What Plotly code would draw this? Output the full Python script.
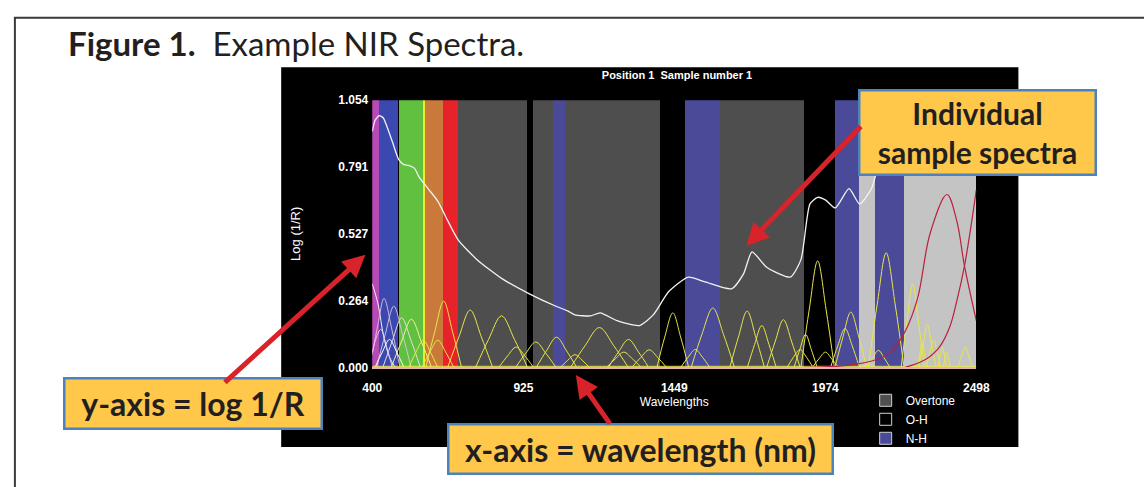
import plotly.graph_objects as go

W, H = 1144, 487

# ---------------- data ----------------
x_ticks = [400, 925, 1449, 1974, 2498]
x_ticktext = ["400", "925", "1449", "1974", "2498"]
y_ticks = [0.0, 0.264, 0.527, 0.791, 1.054]
y_ticktext = ["0.000", "0.264", "0.527", "0.791", "1.054"]
y_top = 1.054

# colour bands of the visible region (nm)
vis_start = [400, 424, 495, 577, 584, 645]
vis_end = [424, 492, 577, 584, 645, 699]
vis_color = ["#b84ab8", "#3a48b0", "#62c040", "#f0ec28", "#c97a3a", "#e8222a"]

# absorption regions (nm)
overtone_start = [699, 958, 1070, 1607]
overtone_end = [937, 1029, 1400, 1900]
nh_start = [1029, 1488, 2008, 2148]
nh_end = [1070, 1607, 2090, 2246]
oh_start = [2090, 2246]
oh_end = [2148, 2498]

# individual sample spectrum (white)
white_nm = [400, 410, 424, 438, 451, 470, 492, 510, 526, 546, 563, 594, 628, 662, 699,
            764, 852, 944, 1040, 1080, 1104, 1158, 1192, 1250, 1328, 1376, 1430, 1498,
            1556, 1648, 1690, 1719, 1770, 1852, 1889, 1920, 1947, 1975, 2008, 2056, 2093,
            2134, 2158, 2200, 2250, 2300, 2380, 2498]
white_val = [0.93, 0.975, 0.993, 0.985, 0.95, 0.89, 0.82, 0.80, 0.797, 0.786, 0.751, 0.705,
             0.655, 0.579, 0.502, 0.425, 0.349, 0.291, 0.24, 0.222, 0.207, 0.203, 0.215,
             0.184, 0.165, 0.207, 0.299, 0.356, 0.337, 0.31, 0.37, 0.456, 0.395, 0.356,
             0.425, 0.644, 0.671, 0.66, 0.629, 0.705, 0.644, 0.705, 0.782, 0.78, 0.77,
             0.85, 0.95, 1.0]

# yellow component curves: (nm points, values)
yellow_curves = [
    ([586, 617, 648, 679, 710], [0, 0.14, 0.261, 0.14, 0]),
    ([662, 701, 740, 779, 818], [0, 0.12, 0.226, 0.12, 0]),
    ([759, 804, 849, 894, 939], [0, 0.11, 0.203, 0.11, 0]),
    ([573, 600, 628, 655, 683], [0, 0.06, 0.107, 0.06, 0]),
    ([527, 552, 577, 602, 627], [0, 0.06, 0.107, 0.06, 0]),
    ([898, 933, 968, 1003, 1038], [0, 0.055, 0.10, 0.055, 0]),
    ([970, 1005, 1040, 1075, 1110], [0, 0.065, 0.119, 0.065, 0]),
    ([840, 870, 900, 930, 960], [0, 0.045, 0.08, 0.045, 0]),
    ([1089, 1139, 1189, 1239, 1289], [0, 0.085, 0.157, 0.085, 0]),
    ([1302, 1332, 1362, 1392, 1422], [0, 0.038, 0.069, 0.038, 0]),
    ([1389, 1416, 1444, 1471, 1499], [0, 0.12, 0.215, 0.12, 0]),
    ([1508, 1545, 1583, 1620, 1658], [0, 0.13, 0.234, 0.13, 0]),
    ([1642, 1672, 1702, 1732, 1762], [0, 0.12, 0.222, 0.12, 0]),
    ([1703, 1728, 1753, 1778, 1803], [0, 0.09, 0.165, 0.09, 0]),
    ([1770, 1799, 1828, 1857, 1886], [0, 0.10, 0.188, 0.10, 0]),
    ([1889, 1918, 1947, 1976, 2005], [0, 0.23, 0.42, 0.23, 0]),
    ([2007, 2035, 2062, 2090, 2117], [0, 0.12, 0.218, 0.12, 0]),
    ([1992, 2017, 2042, 2067, 2092], [0, 0.085, 0.153, 0.085, 0]),
    ([2123, 2154, 2185, 2216, 2247], [0, 0.25, 0.452, 0.25, 0]),
    ([2237, 2257, 2277, 2297, 2317], [0, 0.18, 0.33, 0.18, 0]),
    ([2298, 2313, 2328, 2343, 2358], [0, 0.09, 0.169, 0.09, 0]),
    ([2325, 2337, 2350, 2362, 2375], [0, 0.06, 0.107, 0.06, 0]),
    ([2435, 2447, 2460, 2472, 2485], [0, 0.045, 0.08, 0.045, 0]),
    ([2118, 2138, 2158, 2178, 2198], [0, 0.037, 0.067, 0.037, 0]),
    ([1841, 1863, 1886, 1908, 1931], [0, 0.04, 0.07, 0.04, 0]),
    ([1929, 1951, 1974, 1996, 2019], [0, 0.033, 0.06, 0.033, 0]),
    ([1472, 1497, 1522, 1547, 1572], [0, 0.04, 0.07, 0.04, 0]),
    ([1214, 1244, 1274, 1304, 1334], [0, 0.033, 0.06, 0.033, 0]),
    ([1220, 1255, 1290, 1325, 1360], [0, 0.06, 0.11, 0.06, 0]),
    ([1054, 1079, 1104, 1129, 1154], [0, 0.028, 0.05, 0.028, 0]),
    ([1865, 1885, 1905, 1925, 1945], [0, 0.07, 0.13, 0.07, 0]),
    ([2365, 2372, 2380, 2388, 2395], [0, 0.045, 0.08, 0.045, 0]),
    ([2383, 2389, 2395, 2401, 2407], [0, 0.033, 0.06, 0.033, 0]),
    ([2295, 2302, 2310, 2318, 2325], [0, 0.055, 0.10, 0.055, 0]),
    ([400, 1200, 2498], [0.004, 0.004, 0.004]),
]

# visible-region curves (pale colours)
vis_curves = [
    ([400, 420, 440, 460, 480], [0.33, 0.25, 0.12, 0.04, 0], "#f0f0f0"),
    ([400, 420, 441, 468, 496], [0.05, 0.17, 0.272, 0.15, 0], "#d8b8d8"),
    ([415, 445, 475, 505, 535], [0, 0.13, 0.241, 0.13, 0], "#c8c8d8"),
    ([437, 470, 502, 535, 567], [0, 0.105, 0.195, 0.105, 0], "#e0e0e0"),
    ([466, 501, 536, 571, 606], [0, 0.10, 0.19, 0.10, 0], "#f0f0a0"),
    ([400, 415, 430, 450, 470], [0.06, 0.12, 0.15, 0.08, 0], "#e8c8e8"),
    ([410, 435, 460, 485, 510], [0, 0.06, 0.11, 0.06, 0], "#ffffff"),
]

# red curves
red_curves = [
    ([1900, 2050, 2150, 2200, 2250, 2294, 2338, 2396, 2430, 2457, 2498],
     [0.0, 0.008, 0.03, 0.06, 0.14, 0.272, 0.53, 0.682, 0.579, 0.40, 0.184]),
    ([2250, 2320, 2370, 2406, 2430, 2457, 2484, 2498],
     [0.0, 0.03, 0.08, 0.16, 0.26, 0.40, 0.59, 0.70]),
]

legend_names = ["Overtone", "O-H", "N-H"]
legend_fill = ["#505050", "#000000", "#4a4a9a"]

# ---------------- figure ----------------
def px(x):
    return x / W

def py(y):
    return 1 - y / H

fig = go.Figure()

def add_bands(starts, ends, colors):
    fig.add_trace(go.Bar(
        x=[(s + e) / 2 for s, e in zip(starts, ends)],
        width=[e - s for s, e in zip(starts, ends)],
        y=[y_top] * len(starts),
        marker=dict(color=colors, line=dict(width=0)),
        showlegend=False, hoverinfo="skip"))

add_bands(vis_start, vis_end, vis_color)
add_bands(overtone_start, overtone_end, ["#4e4e4e"] * len(overtone_start))
add_bands(nh_start, nh_end, ["#4a4a98"] * len(nh_start))
add_bands(oh_start, oh_end, ["#c4c4c4"] * len(oh_start))

for xs, ys, c in vis_curves:
    fig.add_trace(go.Scatter(x=xs, y=ys, mode="lines", line=dict(color=c, width=1, shape="spline"),
                             showlegend=False, hoverinfo="skip"))
for xs, ys in yellow_curves:
    fig.add_trace(go.Scatter(x=xs, y=ys, mode="lines", line=dict(color="#e8e64a", width=1, shape="spline"),
                             showlegend=False, hoverinfo="skip"))
for xs, ys in red_curves:
    fig.add_trace(go.Scatter(x=xs, y=ys, mode="lines", line=dict(color="#b8203c", width=1.2, shape="spline"),
                             showlegend=False, hoverinfo="skip"))
fig.add_trace(go.Scatter(x=white_nm, y=white_val, mode="lines",
                         line=dict(color="#f2f2f2", width=1.3, shape="spline", smoothing=0.6),
                         showlegend=False, hoverinfo="skip"))

for n, c in zip(legend_names, legend_fill):
    fig.add_trace(go.Bar(x=[None], y=[None], name=n,
                         marker=dict(color=c, line=dict(color="#d0d0d0", width=1))))

fig.update_layout(
    width=W, height=H, margin=dict(l=0, r=0, t=0, b=0),
    paper_bgcolor="white", plot_bgcolor="black", barmode="overlay", bargap=0,
    title=dict(text="Position 1\u00a0\u00a0Sample number 1", x=px(677), y=py(75),
               xanchor="center", yanchor="middle",
               font=dict(family="Liberation Sans", size=11, color="white", weight="bold")),
    xaxis=dict(domain=[px(370), px(987)], range=[400, 2498], tickvals=x_ticks, ticktext=x_ticktext,
               ticks="", showgrid=False, zeroline=False, showline=True, linecolor="#e8b0b8", linewidth=1.5,
               tickfont=dict(family="Liberation Sans", size=12, color="white", weight="bold"),
               ticklabelstandoff=9,
               title=dict(text="Wavelengths", standoff=0,
                          font=dict(family="Liberation Sans", size=12, color="white"))),
    yaxis=dict(domain=[py(371), py(96)], range=[0, y_top], tickvals=y_ticks, ticktext=y_ticktext,
               ticks="", showgrid=False, zeroline=False, showline=False,
               tickfont=dict(family="Liberation Sans", size=12, color="white", weight="bold"),
               ticklabelstandoff=3,
               title=dict(text="Log (1/R)", standoff=34,
                          font=dict(family="Liberation Sans", size=13, color="white"))),
    legend=dict(x=px(874), y=py(390), xanchor="left", yanchor="top", bgcolor="rgba(0,0,0,0)",
                font=dict(family="Liberation Sans", size=12, color="white"), tracegroupgap=0,
                traceorder="normal"),
    shapes=[
        dict(type="rect", xref="paper", yref="paper", x0=px(5), x1=1.02, y0=-0.05, y1=py(11),
             line=dict(color="#3a3a3a", width=2), fillcolor="rgba(0,0,0,0)", layer="below"),
        dict(type="rect", xref="paper", yref="paper", x0=px(277), x1=px(1030), y0=py(453), y1=py(62),
             line=dict(width=0), fillcolor="black", layer="below"),
    ],
)

callout = dict(xref="paper", yref="paper", xanchor="center", yanchor="middle", showarrow=False,
               bgcolor="#FFC84B", bordercolor="#4A83BF", borderwidth=2.5, borderpad=0,
               font=dict(family="Lato", size=32, color="#231F20", weight="bold"))
annotations = [
    dict(xref="paper", yref="paper", x=px(57), y=py(37), xanchor="left", yanchor="middle", showarrow=False,
         text="<b>Figure 1.</b>\u00a0\u00a0Example NIR Spectra.",
         font=dict(family="Lato", size=33, color="#231F20")),
    dict(callout, x=px(988), y=py(129.5), width=234, height=82, text="Individual<br>sample spectra",
         font=dict(family="Lato", size=30, color="#231F20", weight="bold")),
    dict(callout, x=px(187), y=py(408.5), width=255, height=48, text="y-axis = log 1/R"),
    dict(callout, x=px(644.5), y=py(455), width=382, height=47, text="x-axis = wavelength (nm)"),
]
arrow = dict(xref="paper", yref="paper", text="", showarrow=True, arrowhead=2, arrowsize=0.9,
             arrowwidth=5, arrowcolor="#D8232A", axref="pixel", ayref="pixel")
annotations += [
    dict(arrow, x=px(752), y=py(246), ax=116, ay=-121),
    dict(arrow, x=px(363), y=py(255), ax=-142, ay=129),
    dict(arrow, x=px(578), y=py(379), ax=35, ay=50),
]
fig.update_layout(annotations=annotations)

fig.write_html("out.html", config={"displayModeBar": False},
               post_script="document.body.style.margin='0';document.body.style.overflow='hidden';")
